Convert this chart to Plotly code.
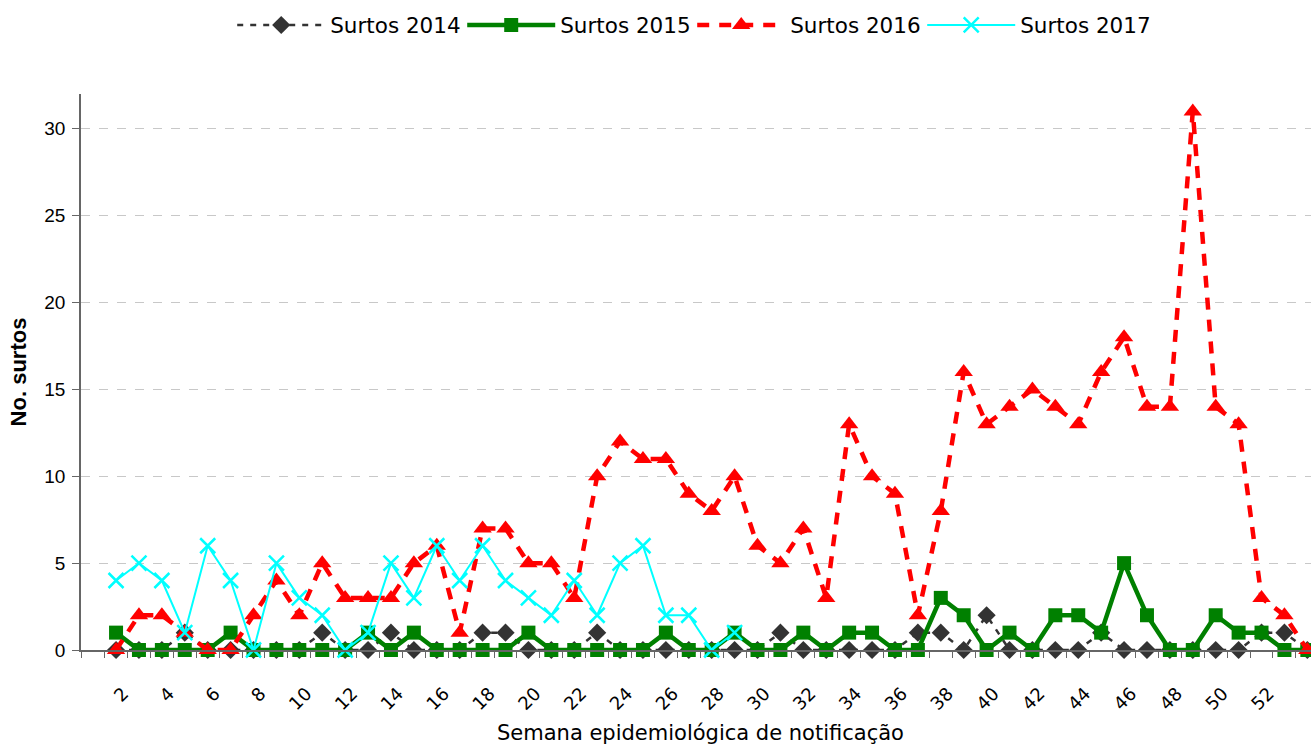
import plotly.graph_objects as go

weeks = list(range(1, 54))
tick_weeks = list(range(2, 53, 2))
tick_labels = [str(w) for w in tick_weeks]
x_title = "Semana epidemiológica de notificação"
y_title = "No. surtos"

surtos_2014 = [0, 0, 0, 1, 0, 0, 0, 0, 0, 1, 0, 0, 1, 0, 0, 0, 1, 1, 0, 0,
               0, 1, 0, 0, 0, 0, 0, 0, 0, 1, 0, 0, 0, 0, 0, 1, 1, 0, 2, 0,
               0, 0, 0, 1, 0, 0, 0, 0, 0, 0, 1, 1, 0]
surtos_2015 = [1, 0, 0, 0, 0, 1, 0, 0, 0, 0, 0, 1, 0, 1, 0, 0, 0, 0, 1, 0,
               0, 0, 0, 0, 1, 0, 0, 1, 0, 0, 1, 0, 1, 1, 0, 0, 3, 2, 0, 1,
               0, 2, 2, 1, 5, 2, 0, 0, 2, 1, 1, 0, 0]
surtos_2016 = [0, 2, 2, 1, 0, 0, 2, 4, 2, 5, 3, 3, 3, 5, 6, 1, 7, 7, 5, 5,
               3, 10, 12, 11, 11, 9, 8, 10, 6, 5, 7, 3, 13, 10, 9, 2, 8, 16, 13, 14,
               15, 14, 13, 16, 18, 14, 14, 31, 14, 13, 3, 2, 0]
surtos_2017 = [4, 5, 4, 1, 6, 4, 0, 5, 3, 2, 0, 1, 5, 3, 6, 4, 6, 4, 3, 2,
               4, 2, 5, 6, 2, 2, 0, 1]

# rotated labels: padded with non-breaking spaces so they sit lower, and
# their anchor is nudged so they stay just left of their category
label_offset = -0.37
label_pad = "\u00a0" * 6

fig = go.Figure()
fig.add_trace(go.Scatter(
    x=weeks, y=surtos_2014, name="Surtos 2014", mode="lines+markers",
    line=dict(color="#333333", width=2.5, dash="6px,7px"),
    marker=dict(symbol="diamond", size=14, color="#333333"),
    cliponaxis=False))
fig.add_trace(go.Scatter(
    x=weeks, y=surtos_2015, name="Surtos 2015", mode="lines+markers",
    line=dict(color="#008000", width=4.5),
    marker=dict(symbol="square", size=14, color="#008000"),
    cliponaxis=False))
fig.add_trace(go.Scatter(
    x=weeks, y=surtos_2016, name="Surtos 2016", mode="lines+markers",
    line=dict(color="#ff0000", width=4.5, dash="12px,10px"),
    marker=dict(symbol="triangle-up", size=16, color="#ff0000"),
    cliponaxis=False))
fig.add_trace(go.Scatter(
    x=weeks[:len(surtos_2017)], y=surtos_2017, name="Surtos 2017", mode="lines+markers",
    line=dict(color="#00ffff", width=2),
    marker=dict(symbol="x-thin", size=15, color="#00ffff",
                line=dict(color="#00ffff", width=2.5)),
    cliponaxis=False))

fig.add_annotation(
    text=x_title, xref="paper", yref="paper", x=0.504, y=-83 / 556,
    xanchor="center", yanchor="middle", showarrow=False,
    font=dict(family="DejaVu Sans", size=21, color="#000000"))

fig.update_layout(
    width=1311, height=744,
    margin=dict(l=81, r=0, t=94, b=94, autoexpand=False),
    paper_bgcolor="white", plot_bgcolor="white",
    font=dict(family="DejaVu Sans", color="#000000"),
    legend=dict(orientation="h", xref="container", x=0.528, xanchor="center",
                yref="container", y=1 - 25 / 744, yanchor="middle",
                font=dict(family="DejaVu Sans", size=21.5),
                entrywidth=127, entrywidthmode="pixels", itemwidth=88,
                traceorder="normal"),
    xaxis=dict(
        range=[-0.53, 53.16], tickmode="array",
        tickvals=[w - label_offset for w in tick_weeks],
        ticktext=[t + label_pad for t in tick_labels],
        tickangle=-45, ticks="outside", ticklen=0, tickcolor="rgba(0,0,0,0)",
        tickfont=dict(family="DejaVu Sans", size=18), automargin=False,
        showline=True, linecolor="#666666", linewidth=1.5, showgrid=False, zeroline=False,
        minor=dict(ticks="outside", ticklen=6, tick0=0.5, dtick=1, tickcolor="#666666", showgrid=False)),
    yaxis=dict(
        range=[0, 32], tickmode="linear", tick0=0, dtick=5,
        ticks="outside", ticklen=7, tickcolor="#666666", ticklabelstandoff=3,
        tickfont=dict(family="Liberation Sans", size=19), automargin=False,
        showline=True, linecolor="#666666", linewidth=1.5,
        showgrid=True, gridcolor="#c8c8c8", griddash="dash", gridwidth=1, zeroline=False,
        title=dict(text="<b>" + y_title + "</b>", font=dict(family="Liberation Sans", size=22), standoff=12)),
)

fig.write_html("out.html", config={"displayModeBar": False},
               post_script="document.body.style.margin='0px';")
